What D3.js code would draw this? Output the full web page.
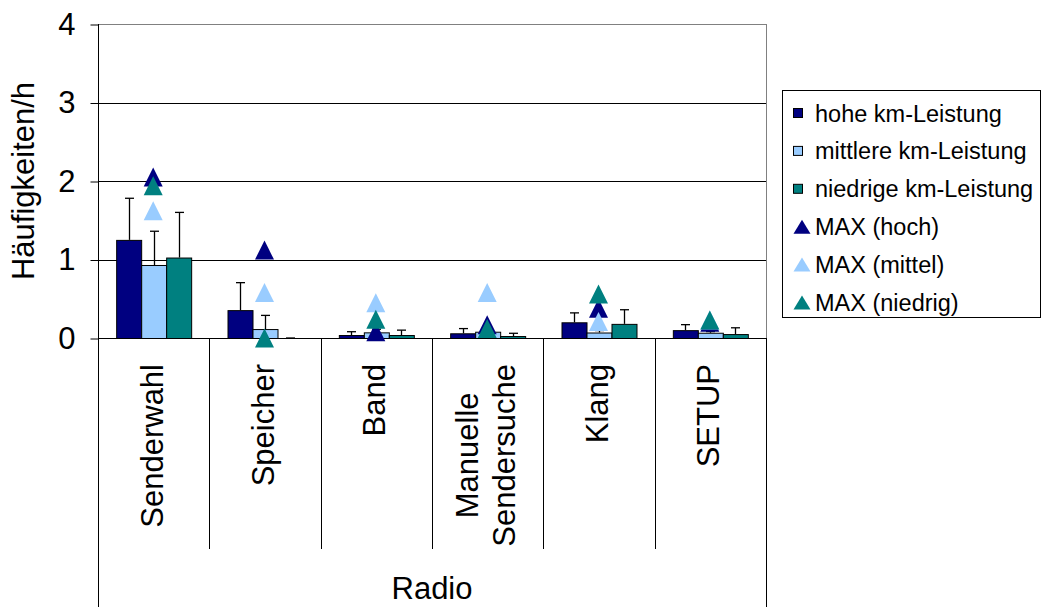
<!DOCTYPE html>
<html>
<head>
<meta charset="utf-8">
<script src="https://cdn.jsdelivr.net/npm/d3@7"></script>
<style>
  html, body { margin: 0; padding: 0; background: #fff; }
  svg { display: block; font-family: "Liberation Sans", Arial, sans-serif; }
</style>
</head>
<body>
<svg id="chart" width="1042" height="607"></svg>
<script>
// ---- data ----
const categories = ["Senderwahl", "Speicher", "Band", "Manuelle\nSendersuche", "Klang", "SETUP"];
const seriesNames = ["hohe km-Leistung", "mittlere km-Leistung", "niedrige km-Leistung"];
const maxNames = ["MAX (hoch)", "MAX (mittel)", "MAX (niedrig)"];
const hohe = [1.25, 0.355, 0.038, 0.06, 0.20, 0.10];
const mittlere = [0.93, 0.114, 0.072, 0.08, 0.07, 0.067];
const niedrige = [1.025, 0.0, 0.038, 0.025, 0.18, 0.05];
const hoheErr = [0.53, 0.35, 0.042, 0.06, 0.12, 0.07];
const mittlereErr = [0.43, 0.174, 0.04, 0.05, 0.025, 0.015];
const niedrigeErr = [0.575, 0.0, 0.062, 0.035, 0.18, 0.08];
const maxHoch = [2.05, 1.12, 0.08, 0.17, 0.38, 0.20];
const maxMittel = [1.62, 0.58, 0.45, 0.58, 0.21, 0.23];
const maxNiedrig = [1.94, 0.0, 0.24, 0.12, 0.56, 0.23];
const yTicks = [0, 1, 2, 3, 4];
const gridValues = [1, 2, 3];
const xGroupLabel = "Radio";
const yLabel = "Häufigkeiten/h";
const colors = ["#000080", "#99CCFF", "#008080"];

// ---- layout ----
const svg = d3.select("#chart");
const L = 98, R = 766, T = 24, B = 338;
const x0 = d3.scaleBand().domain(categories).range([L, R]).paddingInner(0).paddingOuter(0);
const x1 = d3.scaleBand().domain(seriesNames).range([0, x0.bandwidth()]).paddingInner(0).paddingOuter(0.727);
const y = d3.scaleLinear().domain([0, 4]).range([B, T]);

const barValues = [hohe, mittlere, niedrige];
const errValues = [hoheErr, mittlereErr, niedrigeErr];
const maxValues = [maxHoch, maxMittel, maxNiedrig];

// plot border (gray)
svg.append("rect").attr("x", L + 0.5).attr("y", T + 0.5).attr("width", R - L).attr("height", B - T)
  .attr("fill", "none").attr("stroke", "#808080").attr("stroke-width", 1);

// gridlines
svg.append("g").selectAll("line").data(gridValues).join("line")
  .attr("x1", L).attr("x2", R)
  .attr("y1", d => Math.round(y(d)) + 0.5).attr("y2", d => Math.round(y(d)) + 0.5)
  .attr("stroke", "#000").attr("stroke-width", 1);

// y axis
const yAxis = d3.axisLeft(y).tickValues(yTicks).tickFormat(d3.format("d")).tickSizeInner(8).tickSizeOuter(0).tickPadding(15);
const gy = svg.append("g").attr("transform", `translate(${L + 0.5},0.5)`).call(yAxis);
gy.select(".domain").remove();
gy.selectAll(".tick line").attr("stroke", "#000");
gy.selectAll(".tick text").attr("font-size", 31).attr("fill", "#000")
  .attr("font-family", "Liberation Sans, Arial, sans-serif");
svg.append("line").attr("x1", L + 0.5).attr("x2", L + 0.5).attr("y1", T).attr("y2", 607).attr("stroke", "#000");

// y label
svg.append("text").attr("transform", `translate(34,181) rotate(-90)`)
  .attr("text-anchor", "middle").attr("font-size", 31).attr("fill", "#000").text(yLabel);

// bars
seriesNames.forEach((s, si) => {
  svg.append("g").selectAll("rect").data(categories).join("rect")
    .attr("x", c => x0(c) + x1(s) + 0.5)
    .attr("y", (c, i) => y(barValues[si][i]) + 0.5)
    .attr("width", x1.bandwidth())
    .attr("height", (c, i) => Math.max(0, y(0) - y(barValues[si][i])))
    .attr("fill", colors[si]).attr("stroke", "#000").attr("stroke-width", 1);
});

// error bars (plus only)
seriesNames.forEach((s, si) => {
  const g = svg.append("g").attr("stroke", "#000").attr("stroke-width", 1.3);
  categories.forEach((c, i) => {
    const cx = Math.round(x0(c) + x1(s) + x1.bandwidth() / 2) + 0.5;
    const y0v = y(barValues[si][i]);
    const y1v = y(barValues[si][i] + errValues[si][i]);
    g.append("line").attr("x1", cx).attr("x2", cx).attr("y1", y0v).attr("y2", y1v);
    g.append("line").attr("x1", cx - 4.5).attr("x2", cx + 4.5).attr("y1", y1v).attr("y2", y1v);
  });
});

// baseline
svg.append("line").attr("x1", L).attr("x2", R + 1).attr("y1", B + 0.5).attr("y2", B + 0.5).attr("stroke", "#000");

// category dividers
const bounds = categories.map(c => x0(c)).concat([R]);
svg.append("g").selectAll("line").data(bounds).join("line")
  .attr("x1", d => Math.round(d) + 0.5).attr("x2", d => Math.round(d) + 0.5)
  .attr("y1", B).attr("y2", (d, i) => (i === 0 || i === bounds.length - 1) ? 607 : 549)
  .attr("stroke", "#000");

// triangles
const tri = (w, h) => `M0,${-h / 2}L${w / 2},${h / 2}L${-w / 2},${h / 2}Z`;
maxNames.forEach((m, si) => {
  svg.append("g").selectAll("path").data(categories).join("path")
    .attr("d", tri(19, 19))
    .attr("transform", (c, i) => `translate(${x0(c) + x0.bandwidth() / 2 - 0.5},${y(maxValues[si][i])})`)
    .attr("fill", colors[si]);
});

// category labels (rotated)
const labelTop = 364;
categories.forEach(c => {
  const lines = c.split("\n");
  const cx = x0(c) + x0.bandwidth() / 2;
  const g = svg.append("g");
  const texts = lines.map((ln, li) => g.append("text")
    .attr("font-size", 31).attr("fill", "#000").attr("text-anchor", "middle").text(ln));
  const maxLen = d3.max(texts, t => t.node().getComputedTextLength());
  const n = lines.length;
  const lineGap = 37;
  texts.forEach((t, li) => {
    const px = cx + (li - (n - 1) / 2) * lineGap + 9;
    t.attr("transform", `translate(${px},${labelTop + maxLen / 2}) rotate(-90)`);
  });
});

// group label
svg.append("text").attr("x", (L + R) / 2).attr("y", 599).attr("text-anchor", "middle")
  .attr("font-size", 31).attr("fill", "#000").text(xGroupLabel);

// legend
const lg = svg.append("g");
lg.append("rect").attr("x", 782.5).attr("y", 90.5).attr("width", 258).attr("height", 227)
  .attr("fill", "#fff").attr("stroke", "#000");
const rowY = i => 113 + i * 37.9;
seriesNames.forEach((s, i) => {
  lg.append("rect").attr("x", 793.5).attr("y", rowY(i) - 4.5).attr("width", 9).attr("height", 9)
    .attr("fill", colors[i]).attr("stroke", "#000");
  lg.append("text").attr("x", 815).attr("y", rowY(i) + 8.5).attr("font-size", 23.5).attr("fill", "#000").text(s);
});
maxNames.forEach((m, j) => {
  const i = j + 3;
  lg.append("path").attr("d", tri(17, 14)).attr("transform", `translate(802,${rowY(i)})`).attr("fill", colors[j]);
  lg.append("text").attr("x", 815).attr("y", rowY(i) + 8.5).attr("font-size", 23.5).attr("fill", "#000").text(m);
});
</script>
</body>
</html>
